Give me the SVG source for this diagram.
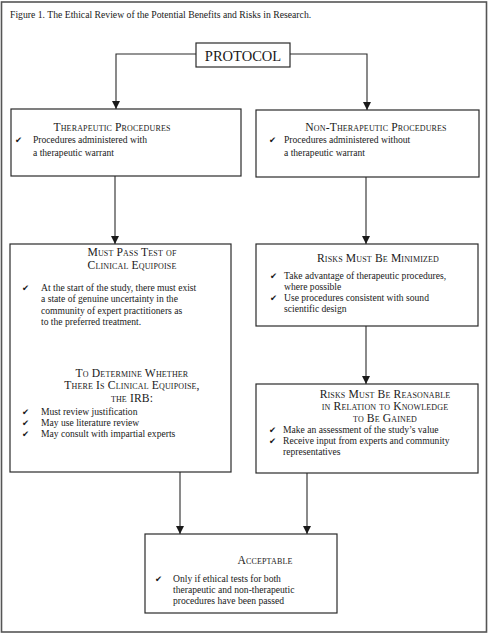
<svg xmlns="http://www.w3.org/2000/svg" width="488" height="635" viewBox="0 0 488 635">
<defs>
<marker id="arr" markerUnits="userSpaceOnUse" markerWidth="10" markerHeight="10" refX="8" refY="4" orient="auto">
<path d="M0,0 L8,4 L0,8 Z" fill="#1a1a1a"/>
</marker>
<style>
.frame{fill:#fff;stroke:#555;stroke-width:1.6}
.box{fill:#fff;stroke:#2a2a2a;stroke-width:1.2}
.con{fill:none;stroke:#2a2a2a;stroke-width:1.1;marker-end:url(#arr)}
.t{font-family:"Liberation Serif","Times New Roman",serif;font-size:9.6px;fill:#1a1a1a}
.h{font-family:"Liberation Serif","Times New Roman",serif;font-size:11.6px;font-variant:small-caps;letter-spacing:0.15px;fill:#1a1a1a;text-anchor:middle}
.ck{font-family:"DejaVu Sans",sans-serif;font-size:8.5px;fill:#1a1a1a}
.cap{font-family:"Liberation Serif","Times New Roman",serif;font-size:9.7px;fill:#1a1a1a}
.p{font-family:"Liberation Serif","Times New Roman",serif;font-size:14.5px;fill:#1a1a1a;text-anchor:middle}
</style>
</defs>
<rect width="488" height="635" fill="#fff"/>
<rect class="frame" x="1.5" y="2" width="485" height="630"/>
<text class="cap" x="10" y="18">Figure 1. The Ethical Review of the Potential Benefits and Risks in Research.</text>

<g id="connectors">
<path class="con" d="M196,54 H116 V109"/>
<path class="con" d="M290,54 H367 V110"/>
<path class="con" d="M115,176 V244"/>
<path class="con" d="M366,177 V244"/>
<path class="con" d="M366,326 V384"/>
<path class="con" d="M180,472 V534"/>
<path class="con" d="M307,473 V534"/>
</g>

<g id="protocol">
<rect class="box" x="196" y="43" width="94" height="24"/>
<text class="p" x="243" y="60.5">PROTOCOL</text>
</g>

<g id="therapeutic">
<rect class="box" x="11" y="109" width="230" height="67"/>
<text class="h" x="112" y="130.5">Therapeutic Procedures</text>
<text class="ck" x="15" y="143">✔</text>
<text class="t" x="33" y="143">Procedures administered with</text>
<text class="t" x="33" y="156">a therapeutic warrant</text>
</g>

<g id="nontherapeutic">
<rect class="box" x="256" y="110" width="223" height="67"/>
<text class="h" x="376" y="130.5">Non-Therapeutic Procedures</text>
<text class="ck" x="269" y="143">✔</text>
<text class="t" x="284" y="143">Procedures administered without</text>
<text class="t" x="284" y="156">a therapeutic warrant</text>
</g>

<g id="equipoise">
<rect class="box" x="10" y="244" width="221" height="228"/>
<text class="h" x="132" y="256">Must Pass Test of</text>
<text class="h" x="132" y="268.5">Clinical Equipoise</text>
<text class="ck" x="22" y="291">✔</text>
<text class="t" x="41" y="291">At the start of the study, there must exist</text>
<text class="t" x="41" y="302.3">a state of genuine uncertainty in the</text>
<text class="t" x="41" y="313.6">community of expert practitioners as</text>
<text class="t" x="41" y="325">to the preferred treatment.</text>
<text class="h" x="132" y="376.5">To Determine Whether</text>
<text class="h" x="132" y="389">There Is Clinical Equipoise,</text>
<text class="h" x="132" y="401.5">the IRB:</text>
<text class="ck" x="22" y="415">✔</text>
<text class="t" x="41" y="415">Must review justification</text>
<text class="ck" x="22" y="426">✔</text>
<text class="t" x="41" y="426">May use literature review</text>
<text class="ck" x="22" y="437">✔</text>
<text class="t" x="41" y="437">May consult with impartial experts</text>
</g>

<g id="minimized">
<rect class="box" x="256" y="244" width="222" height="82"/>
<text class="h" x="378" y="262">Risks Must Be Minimized</text>
<text class="ck" x="270" y="279">✔</text>
<text class="t" x="284" y="279">Take advantage of therapeutic procedures,</text>
<text class="t" x="284" y="290">where possible</text>
<text class="ck" x="270" y="301">✔</text>
<text class="t" x="284" y="301">Use procedures consistent with sound</text>
<text class="t" x="284" y="312">scientific design</text>
</g>

<g id="reasonable">
<rect class="box" x="256" y="384" width="222" height="89"/>
<text class="h" x="385" y="397.5">Risks Must Be Reasonable</text>
<text class="h" x="385" y="409.5">in Relation to Knowledge</text>
<text class="h" x="385" y="421.5">to Be Gained</text>
<text class="ck" x="269" y="433">✔</text>
<text class="t" x="283" y="433">Make an assessment of the study’s value</text>
<text class="ck" x="269" y="444">✔</text>
<text class="t" x="283" y="444">Receive input from experts and community</text>
<text class="t" x="283" y="455">representatives</text>
</g>

<g id="acceptable">
<rect class="box" x="145" y="534" width="192" height="79"/>
<text class="h" x="265" y="564">Acceptable</text>
<text class="ck" x="155" y="582">✔</text>
<text class="t" x="173" y="582">Only if ethical tests for both</text>
<text class="t" x="173" y="593">therapeutic and non-therapeutic</text>
<text class="t" x="173" y="603.5">procedures have been passed</text>
</g>
</svg>
